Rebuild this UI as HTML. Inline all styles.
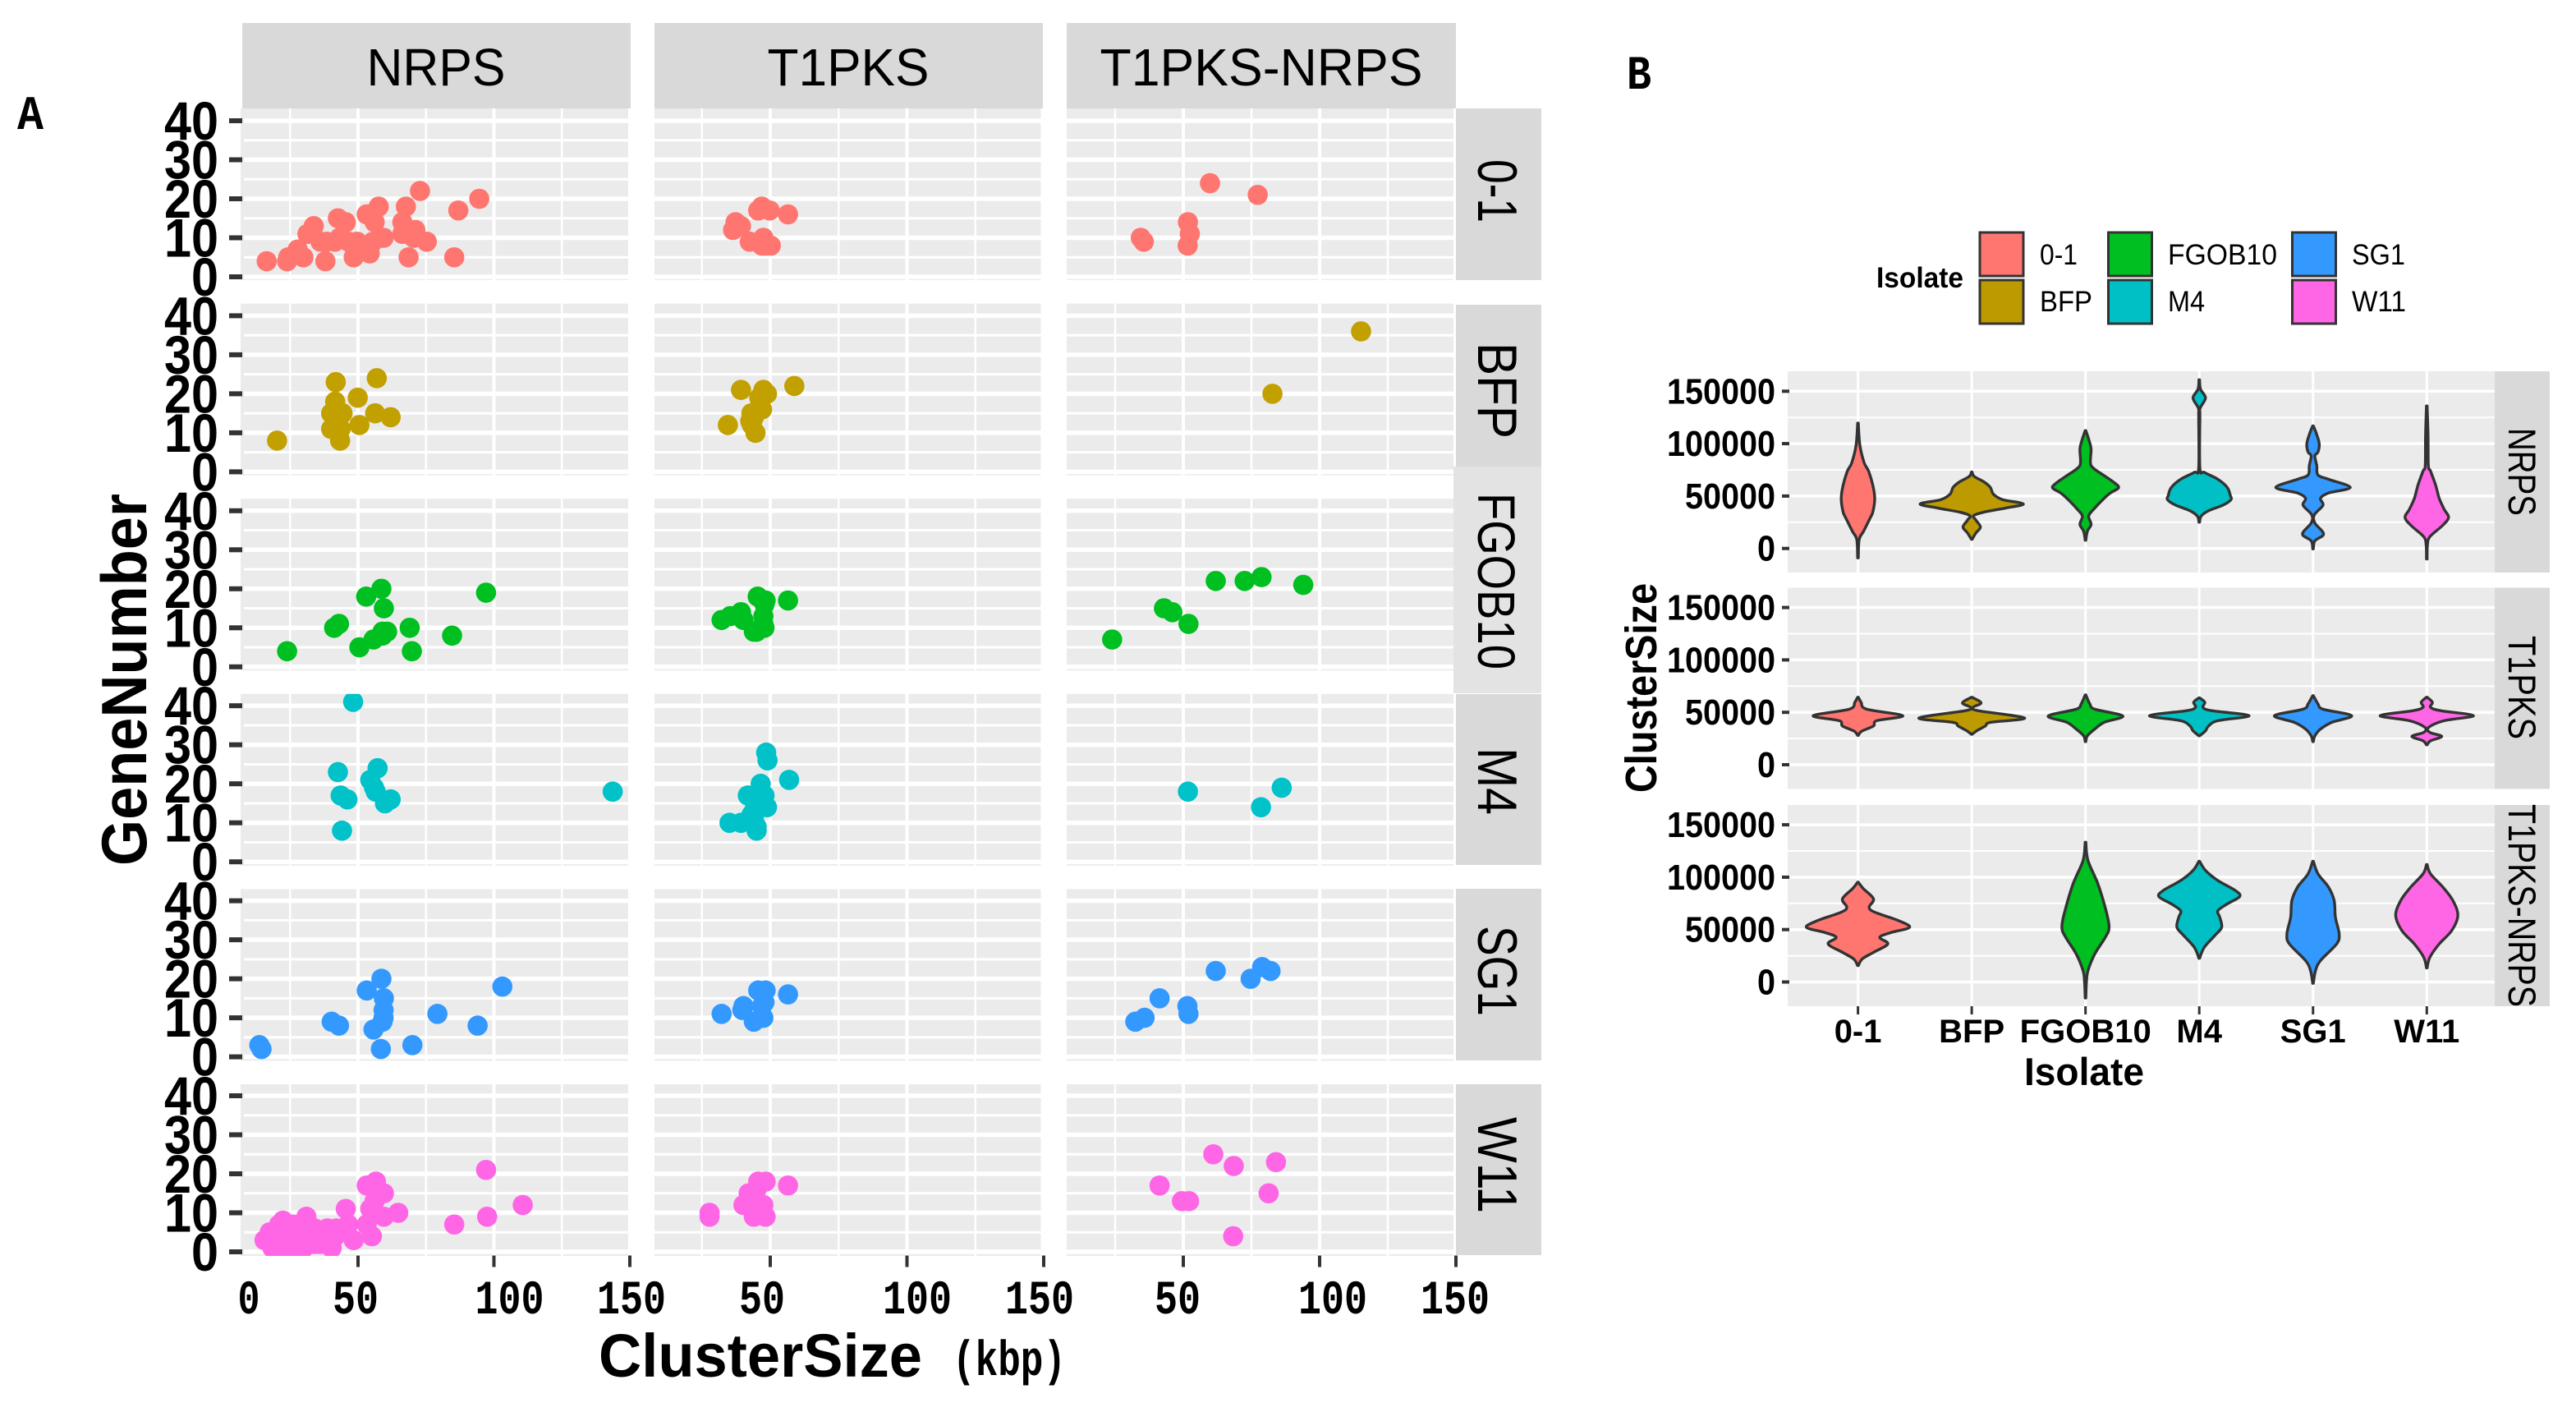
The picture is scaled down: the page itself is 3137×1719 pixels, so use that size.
<!DOCTYPE html>
<html>
<head>
<meta charset="utf-8">
<title>Cluster size and gene number by isolate</title>
<style>
html,body{margin:0;padding:0;background:#fff;width:3137px;height:1719px;overflow:hidden}
svg{display:block}
text{font-family:"Liberation Sans",sans-serif;fill:#000}
.b{font-weight:bold}
.m{font-family:"Liberation Mono",monospace;font-weight:bold}
</style>
</head>
<body>
<svg id="fig" xmlns="http://www.w3.org/2000/svg" width="3137" height="1719" viewBox="0 0 3137 1719">
<rect width="3137" height="1719" fill="#fff"/>
<g id="strips">
<rect x="295" y="28" width="473" height="104" fill="#d9d9d9"/>
<rect x="797" y="28" width="473" height="104" fill="#d9d9d9"/>
<rect x="1299" y="28" width="474" height="104" fill="#d9d9d9"/>
<rect x="1773" y="132" width="104" height="209" fill="#d9d9d9"/>
<rect x="1773" y="371" width="104" height="197" fill="#d9d9d9"/>
<rect x="1770" y="568" width="107" height="276" fill="#e3e3e3"/>
<rect x="1773" y="845" width="104" height="208" fill="#d9d9d9"/>
<rect x="1773" y="1082" width="104" height="209" fill="#d9d9d9"/>
<rect x="1773" y="1320" width="104" height="208" fill="#d9d9d9"/>
<rect x="3038" y="452" width="67" height="245" fill="#d9d9d9"/>
<rect x="3038" y="715.5" width="67" height="245" fill="#d9d9d9"/>
<rect x="3038" y="980" width="67" height="245" fill="#d9d9d9"/>
</g>
<g id="panelsA"></g>
<g id="panelsB"></g>

<g>
<text x="531" y="104" font-size="64" text-anchor="middle" textLength="169" lengthAdjust="spacingAndGlyphs">NRPS</text>
<text x="1033" y="104" font-size="64" text-anchor="middle" textLength="197" lengthAdjust="spacingAndGlyphs">T1PKS</text>
<text x="1536" y="104" font-size="64" text-anchor="middle" textLength="393" lengthAdjust="spacingAndGlyphs">T1PKS-NRPS</text>
<text transform="translate(1800,232.5) rotate(90)" font-size="68" text-anchor="middle" textLength="77" lengthAdjust="spacingAndGlyphs">0-1</text>
<text transform="translate(1800,475.5) rotate(90)" font-size="68" text-anchor="middle" textLength="117" lengthAdjust="spacingAndGlyphs">BFP</text>
<text transform="translate(1800,707.5) rotate(90)" font-size="64" text-anchor="middle" textLength="215" lengthAdjust="spacingAndGlyphs">FGOB10</text>
<text transform="translate(1800,951) rotate(90)" font-size="68" text-anchor="middle" textLength="82" lengthAdjust="spacingAndGlyphs">M4</text>
<text transform="translate(1800,1182) rotate(90)" font-size="68" text-anchor="middle" textLength="110" lengthAdjust="spacingAndGlyphs">SG1</text>
<text transform="translate(1800,1418.5) rotate(90)" font-size="68" text-anchor="middle" textLength="117" lengthAdjust="spacingAndGlyphs">W11</text>
<text transform="translate(3055,574.5) rotate(90)" font-size="47" text-anchor="middle" textLength="107" lengthAdjust="spacingAndGlyphs">NRPS</text>
<text transform="translate(3055,837) rotate(90)" font-size="47" text-anchor="middle" textLength="126" lengthAdjust="spacingAndGlyphs">T1PKS</text>
<text transform="translate(3055,1102.5) rotate(90)" font-size="47" text-anchor="middle" textLength="247" lengthAdjust="spacingAndGlyphs">T1PKS-NRPS</text>
</g>

<text class="m" x="21" y="157" font-size="58" textLength="32" lengthAdjust="spacingAndGlyphs">A</text>
<text class="m" x="1981" y="108" font-size="58" textLength="30" lengthAdjust="spacingAndGlyphs">B</text>

<text class="b" transform="translate(178,827.5) rotate(-90)" font-size="78" text-anchor="middle" textLength="453" lengthAdjust="spacingAndGlyphs">GeneNumber</text>
<text class="b" x="729" y="1676" font-size="74" textLength="394" lengthAdjust="spacingAndGlyphs">ClusterSize</text>
<text class="m" x="1160" y="1674" font-size="60" textLength="138" lengthAdjust="spacingAndGlyphs">(kbp)</text>
<text class="b" transform="translate(2017,837.5) rotate(-90)" font-size="54" text-anchor="middle" textLength="255" lengthAdjust="spacingAndGlyphs">ClusterSize</text>
<text class="b" x="2538" y="1321" font-size="47" text-anchor="middle" textLength="146" lengthAdjust="spacingAndGlyphs">Isolate</text>

<g>
<text class="b" x="2285" y="350" font-size="35" textLength="106" lengthAdjust="spacingAndGlyphs">Isolate</text>
<g><rect x="2411" y="283" width="53" height="53" fill="#ff7670" stroke="#333" stroke-width="3"/><text x="2484" y="322" font-size="35" textLength="46" lengthAdjust="spacingAndGlyphs">0-1</text></g>
<g><rect x="2411" y="341" width="53" height="53" fill="#bd9b00" stroke="#333" stroke-width="3"/><text x="2484" y="379" font-size="35" textLength="64" lengthAdjust="spacingAndGlyphs">BFP</text></g>
<g><rect x="2567.5" y="283" width="53" height="53" fill="#00bf20" stroke="#333" stroke-width="3"/><text x="2640" y="322" font-size="35" textLength="133" lengthAdjust="spacingAndGlyphs">FGOB10</text></g>
<g><rect x="2567.5" y="341" width="53" height="53" fill="#00c0c6" stroke="#333" stroke-width="3"/><text x="2640" y="379" font-size="35" textLength="45" lengthAdjust="spacingAndGlyphs">M4</text></g>
<g><rect x="2791.5" y="283" width="53" height="53" fill="#3399ff" stroke="#333" stroke-width="3"/><text x="2864" y="322" font-size="35" textLength="65" lengthAdjust="spacingAndGlyphs">SG1</text></g>
<g><rect x="2791.5" y="341" width="53" height="53" fill="#ff66e6" stroke="#333" stroke-width="3"/><text x="2864" y="379" font-size="35" textLength="66" lengthAdjust="spacingAndGlyphs">W11</text></g>
</g>
</svg>

<script>
// ---- Scatter data: cluster size (kbp) and gene number, one pair per panel ----
const clusterTypes = ['NRPS','T1PKS','T1PKS-NRPS'];
const isolates = ['0-1','BFP','FGOB10','M4','SG1','W11'];
const isolateColors = ['#ff7670','#c2a000','#00bf20','#00c2c8','#3399ff','#ff66e6'];
const violinColors = ['#ff7670','#bd9b00','#00bf20','#00c0c6','#3399ff','#ff66e6'];
const geneTicks = [0,10,20,30,40];
const geneMinor = [5,15,25,35];
const sizeTicks = [50,100,150];
const sizeMinor = [25,75,125];
const sizeTickLabels = ['50','100','150'];
const zeroLabel = '0';
const violinTicks = [0,50000,100000,150000];
const violinMinor = [25000,75000,125000];

const nrps01Size = [16.4,23.9,24.3,27.8,29.9,31.4,33.7,36.2,38,38.5,42.6,45.5,43.2,41.5,46.5,48.4,49.7,54.3,55.5,53.2,57.6,56.1,59.4,67.6,66.3,66.3,71.1,72.8,68.6,70.5,75.3,85.4,86.9,94.6];
const nrps01Genes = [4,4,5,7,5,11,13,9,4,9,15,14,10,9,9,5,9,6,9,16,18,14,10,18,14,11,12,22,5,10,9,5,17,20];
const t1pks01Size = [56.5,46.9,45.6,49.8,37.3,39.3,36.4,42.5,47.5,48.8,47,50.2];
const t1pks01Genes = [16,18,17,17,14,13,12,9,10,8,8,8];
const hybrid01Size = [59.8,77.3,51.7,52.4,51.6,34.4,35.5];
const hybrid01Genes = [24,21,14,11,8,10,9];

const nrpsBfpSize = [20.2,41.8,56.9,49.9,41.6,41.6,40.1,44.3,40.1,43.6,42,56.3,62,50.5,43.4];
const nrpsBfpGenes = [8,23,24,19,18,16,15,15,11,11,13,15,14,12,8];
const t1pksBfpSize = [58.8,39.3,47.5,48.8,46,47,43.1,42.7,43.3,34.5,44.6,44,46.4];
const t1pksBfpGenes = [22,21,21,20,19,16,15,13,12,12,10,14,18];
const hybridBfpSize = [115.2,82.7];
const hybridBfpGenes = [36,20];

const nrpsFgobSize = [23.9,41.2,43,58.6,53,59.5,69,60.7,59,59,55.7,50.5,69.8,84.6,97.1];
const nrpsFgobGenes = [4,10,11,20,18,15,10,9,9,8,7,5,4,8,19];
const t1pksFgobSize = [56.5,45.4,48.3,47.9,39.3,35.4,32.2,40.2,47.5,47.5,47.9,44,47,45];
const t1pksFgobGenes = [17,18,17,16,14,13,12,12,13,11,10,9,10,9];
const hybridFgobSize = [61.9,72.5,78.7,94,42.9,46,51.9,23.9];
const hybridFgobGenes = [22,22,23,21,15,14,11,7];

const nrpsM4Size = [48.2,42.6,57.2,54.5,55.9,56.5,43.6,46.1,62,59.9,44.1,143.7];
const nrpsM4Genes = [41,23,24,21,19,18,17,16,16,15,8,18];
const t1pksM4Size = [48.5,49,56.9,46.5,41.8,47.9,46,48.8,44,43.1,35.1,39.3,45,45,44,47];
const t1pksM4Genes = [28,26,21,20,17,17,18,14,13,12,10,10,9,8,11,15];
const hybridM4Size = [51.7,86.1,78.5];
const hybridM4Genes = [18,19,14];

const nrpsSg1Size = [13.7,14.5,40.3,43,58.6,53.2,59.5,59.4,59.4,59,55.7,58.4,70,79.2,94,103.1];
const nrpsSg1Genes = [3,2,9,8,20,17,15,12,10,9,7,2,3,11,8,18];
const t1pksSg1Size = [56.5,45.6,48.3,47.9,40.2,39.8,32.2,44,47.5,47];
const t1pksSg1Genes = [16,17,17,14,13,12,11,9,10,13];
const hybridSg1Size = [61.9,78.9,82,74.7,41.3,51.5,51.9,35.8,32.4];
const hybridSg1Genes = [22,23,22,20,15,13,11,10,9];

const nrpsW11Size = [15.6,17.5,20.4,18.5,22.4,24.3,26.2,31,32,28.1,24.3,34,34,38.7,40.3,41.6,45.5,46.4,48.4,43.5,55.1,53.2,54.5,53.2,56.6,59.5,56.1,59.5,64.8,85.4,97.1,97.5,110.6,20.4,25.3,29.1,18.5,30,35.8,22.4,27.2,32,20,22,24,26,28,30,25,27,33,23,21,36,42];
const nrpsW11Genes = [3,5,2,4,8,5,7,9,5,3,1,6,2,6,1,4,11,7,3,5,4,7,11,17,18,15,13,9,10,7,21,9,12,5,3,6,1,1,4,4,1,3,3,5,2,4,6,3,7,1,4,1,7,2,6];
const t1pksW11Size = [56.5,45.6,48.3,42.1,40.2,47.5,27.8,27.8,44,48.3,44,45];
const t1pksW11Genes = [17,18,18,15,12,12,10,9,9,9,13,16];
const hybridW11Size = [61,68.5,84,41.3,81.3,49.5,52.1,68.3];
const hybridW11Genes = [25,22,23,17,15,13,13,4];

const scatterSizes = [
  [nrps01Size,t1pks01Size,hybrid01Size],
  [nrpsBfpSize,t1pksBfpSize,hybridBfpSize],
  [nrpsFgobSize,t1pksFgobSize,hybridFgobSize],
  [nrpsM4Size,t1pksM4Size,hybridM4Size],
  [nrpsSg1Size,t1pksSg1Size,hybridSg1Size],
  [nrpsW11Size,t1pksW11Size,hybridW11Size]
];
const scatterGenes = [
  [nrps01Genes,t1pks01Genes,hybrid01Genes],
  [nrpsBfpGenes,t1pksBfpGenes,hybridBfpGenes],
  [nrpsFgobGenes,t1pksFgobGenes,hybridFgobGenes],
  [nrpsM4Genes,t1pksM4Genes,hybridM4Genes],
  [nrpsSg1Genes,t1pksSg1Genes,hybridSg1Genes],
  [nrpsW11Genes,t1pksW11Genes,hybridW11Genes]
];

// ---- Violin data: cluster size (kbp) and relative density, one pair per violin ----
const vNrps01Size = [119.6,98.7,81.7,73.9,60,47.8,35,29.5,16.4,8.6,-9];
const vNrps01Dens = [0.5,3,10,17,24,27,24,20,9,2,0.5];
const vNrpsBfpSize = [73,68.7,63.4,58.2,51.7,46.5,42.5,38.6,34.7,31.3,26.9,20.4,15,8.6];
const vNrpsBfpDens = [0.5,4,20,30,35,50,83,55,20,3,7,14,7,0.5];
const vNrpsFgobSize = [112.5,102.6,94.8,81.7,76.5,68.7,62,57.7,53,47.8,37.3,30.8,23,16.4,7.8];
const vNrpsFgobDens = [0.5,6,9,8,13,32,48,53,40,30,13,5,9,3,0.5];
const vNrpsM4Size = [161,152,143.6,134,126,76.5,72.6,66,58.2,50.4,46.5,41.3,36,30.8,25];
const vNrpsM4Dens = [0.5,2,10,1.5,1,1,8,30,45,50,51,38,15,3,0.5];
const vNrpsSg1Size = [117,110.4,100,92,88.3,79,70,66,58.2,53,47.8,41.3,32,24.3,13.8,7.3,-0.5];
const vNrpsSg1Dens = [0.5,5,10,8,3,6,8,25,60,25,12,16,2,3,17,3,0.5];
const vNrpsW11Size = [136,107.8,79,73.9,60.8,47.8,37.3,29.5,21.7,11.2,3.4,-10];
const vNrpsW11Dens = [0.5,2,2.5,6,14,20,28,35,25,5,1,0.5];

const vT1pks01Size = [64.4,59.6,53,46.8,42,37,32,28];
const vT1pks01Dens = [0.5,5,14,72,30,25,6,0.5];
const vT1pksBfpSize = [64.4,59,54.8,51.6,44.6,40.4,37,32.4,29];
const vT1pksBfpDens = [0.5,15,2,10,85,30,22,8,0.5];
const vT1pksFgobSize = [66.7,58,53,46.5,40.4,34,27.6,22];
const vT1pksFgobDens = [0.5,7,15,60,30,15,3,0.5];
const vT1pksM4Size = [63.8,59.6,54.8,51.6,46.8,42,37,32.4,27.6];
const vT1pksM4Dens = [0.5,9,6,20,80,30,15,10,0.5];
const vT1pksSg1Size = [66,58,53,46.8,40.4,34,27.6,22];
const vT1pksSg1Dens = [0.5,8,16,62,30,12,3,0.5];
const vT1pksW11Size = [64.4,59.6,54.8,51.6,46.8,42,35.6,30.8,27,22.8,19];
const vT1pksW11Dens = [0.5,9,6,22,75,28,3,5,24,6,0.5];

const vHybrid01Size = [95.2,88.9,79.3,71.3,66.6,58.6,52.2,47.5,42.7,36.3,28.3,22,15.6];
const vHybrid01Dens = [0.5,9,25,18,27,65,83,55,35,48,25,7,0.5];
const vHybridFgobSize = [133.4,115.9,93.6,68,52.2,42.7,26.8,10.8,-0.3,-15.3];
const vHybridFgobDens = [0.5,4,20,33,38,32,15,4,1.5,0.5];
const vHybridM4Size = [115.3,106.4,96.8,87.3,81.5,74.5,68,61.8,52.2,44.3,33.1,22.6];
const vHybridM4Dens = [0.5,10,30,58,65,45,30,33,36,25,8,0.5];
const vHybridSg1Size = [115.3,103.2,90.4,77.7,61.8,45.9,36.3,20.4,10.8,-1.3];
const vHybridSg1Dens = [0.5,8,25,34,36,42,38,12,4,0.5];
const vHybridW11Size = [112.1,103.2,90.4,77.7,63.4,49,36.3,23.6,13.4];
const vHybridW11Dens = [0.5,6,26,42,50,40,20,5,0.5];

const violinSizes = [
  [vNrps01Size,vNrpsBfpSize,vNrpsFgobSize,vNrpsM4Size,vNrpsSg1Size,vNrpsW11Size],
  [vT1pks01Size,vT1pksBfpSize,vT1pksFgobSize,vT1pksM4Size,vT1pksSg1Size,vT1pksW11Size],
  [vHybrid01Size,null,vHybridFgobSize,vHybridM4Size,vHybridSg1Size,vHybridW11Size]
];
const violinDens = [
  [vNrps01Dens,vNrpsBfpDens,vNrpsFgobDens,vNrpsM4Dens,vNrpsSg1Dens,vNrpsW11Dens],
  [vT1pks01Dens,vT1pksBfpDens,vT1pksFgobDens,vT1pksM4Dens,vT1pksSg1Dens,vT1pksW11Dens],
  [vHybrid01Dens,null,vHybridFgobDens,vHybridM4Dens,vHybridSg1Dens,vHybridW11Dens]
];

// ---- helpers ----
const NS = 'http://www.w3.org/2000/svg';
function add(parent, tag, attrs, txt){
  const el = document.createElementNS(NS, tag);
  for (const k in attrs) el.setAttribute(k, attrs[k]);
  if (txt !== undefined) el.textContent = txt;
  parent.appendChild(el);
  return el;
}
function slug(s){ return String(s).toLowerCase(); }

// ---- Panel A axes ----
function sizeX(col, v){ return [436,938,1441][col] + (v - 50) * [3.31,3.33,3.32][col]; }
function geneY(row, g){ return 337 + 237.4 * row - g * 4.75; }
const colLeft = c => [293,797,1299][c];
const colRight = c => [765,1267.5,1770][c];
const rowTop = r => 132 + 237.6 * r;
const PANEL_H = 209;
// Hand-placed tick label offsets in the reference, per column then per tick
const labelNudge = [[-3,19,2],[-10,12.5,-5],[-7,16,-1]];

const panelsA = document.getElementById('panelsA');
const defs = add(document.getElementById('fig'), 'defs', {});
isolates.forEach((iso, r) => {
  clusterTypes.forEach((ct, c) => {
    const L = colLeft(c), R = colRight(c), T = rowTop(r);
    const g = add(panelsA, 'g', {});
    
    
    const bg = add(g, 'rect', {x:L, y:T, width:R-L, height:PANEL_H, fill:'#ebebeb'});
    
    
    const gx0 = c === 0 ? 297 : L;
    geneMinor.forEach(t => {
      const ln = add(g, 'line', {x1:gx0, x2:R, y1:geneY(r,t), y2:geneY(r,t), stroke:'#fff', 'stroke-width':3});
      
      
    });
    geneTicks.forEach(t => {
      const ln = add(g, 'line', {x1:gx0, x2:R, y1:geneY(r,t), y2:geneY(r,t), stroke:'#fff', 'stroke-width':5.5});
      
      
    });
    sizeMinor.forEach(t => {
      const ln = add(g, 'line', {x1:sizeX(c,t), x2:sizeX(c,t), y1:T, y2:T+PANEL_H, stroke:'#fff', 'stroke-width':2.5});
      
      
    });
    sizeTicks.forEach(t => {
      if (sizeX(c,t) >= R) return;
      const ln = add(g, 'line', {x1:sizeX(c,t), x2:sizeX(c,t), y1:T, y2:T+PANEL_H, stroke:'#fff', 'stroke-width':4});
      
      
    });
    // clip region for points
    const cpId = 'cp' + r + '_' + c;
    const cp = add(defs, 'clipPath', {id:cpId});
    add(cp, 'rect', {x:L, y:T, width:R-L+4, height:PANEL_H});
    const pts = add(g, 'g', {'clip-path':'url(#' + cpId + ')'});
    
    
    const xs = scatterSizes[r][c], ys = scatterGenes[r][c];
    xs.forEach((v, i) => {
      const dot = add(pts, 'circle', {cx:sizeX(c,v), cy:geneY(r,ys[i]), r:12.3, fill:isolateColors[r]});
      
      
    });
  });
  // y ticks & labels
  geneTicks.forEach(t => {
    const tk = add(panelsA, 'rect', {x:279, y:geneY(r,t)-3, width:16, height:6, fill:'#333'});
    
    
    const lb = add(panelsA, 'text', {x:266, y:geneY(r,t)+23, 'font-size':66, 'text-anchor':'end', 'class':'b', textLength: t === 0 ? 33 : 66, lengthAdjust:'spacingAndGlyphs'}, String(t));
    
    
  });
});
// x ticks & labels
clusterTypes.forEach((ct, c) => {
  sizeTicks.forEach((t, i) => {
    const tk = add(panelsA, 'rect', {x:sizeX(c,t)-2, y:1528.5, width:4, height:14, fill:'#333'});
    
    
    const s = sizeTickLabels[i];
    const lb = add(panelsA, 'text', {x:sizeX(c,t)+labelNudge[c][i], y:1599, 'font-size':58, 'text-anchor':'middle', 'class':'m', textLength:s.length*28, lengthAdjust:'spacingAndGlyphs'}, s);
    
    
  });
});
const zl = add(panelsA, 'text', {x:303, y:1599, 'font-size':58, 'text-anchor':'middle', 'class':'m', textLength:27, lengthAdjust:'spacingAndGlyphs'}, zeroLabel);



// ---- Panel B axes ----
const bLeft = 2177, bRight = 3038, bHeight = 245;
const bTop = i => [452,715.5,980][i];
function violinY(row, kbp){ return [667.7,931,1195.5][row] - kbp * 1.276; }
function catX(i){ return 2262.6 + i * 138.54; }
const DENS_PX = 0.757;

function smoothPath(pts){
  let d = '';
  for (let i = 0; i < pts.length - 1; i++){
    const p0 = pts[Math.max(i-1,0)], p1 = pts[i], p2 = pts[i+1], p3 = pts[Math.min(i+2,pts.length-1)];
    const c1x = p1[0] + (p2[0]-p0[0])/6, c1y = p1[1] + (p2[1]-p0[1])/6;
    const c2x = p2[0] - (p3[0]-p1[0])/6, c2y = p2[1] - (p3[1]-p1[1])/6;
    d += ' C' + c1x.toFixed(1) + ' ' + c1y.toFixed(1) + ' ' + c2x.toFixed(1) + ' ' + c2y.toFixed(1) + ' ' + p2[0].toFixed(1) + ' ' + p2[1].toFixed(1);
  }
  return d;
}

const panelsB = document.getElementById('panelsB');
clusterTypes.forEach((ct, r) => {
  const T = bTop(r);
  const g = add(panelsB, 'g', {});
  
  
  const bg = add(g, 'rect', {x:bLeft, y:T, width:bRight-bLeft, height:bHeight, fill:'#ebebeb'});
  
  
  violinMinor.forEach(t => {
    const ln = add(g, 'line', {x1:bLeft, x2:bRight, y1:violinY(r,t/1000), y2:violinY(r,t/1000), stroke:'#fff', 'stroke-width':2});
    
    
  });
  violinTicks.forEach(t => {
    const y = violinY(r,t/1000);
    const ln = add(g, 'line', {x1:bLeft, x2:bRight, y1:y, y2:y, stroke:'#fff', 'stroke-width':3.5});
    
    
    const tk = add(g, 'rect', {x:2170, y:y-2, width:9, height:4, fill:'#333'});
    
    
    const s = String(t);
    const lb = add(g, 'text', {x:2162, y:y+15, 'font-size':44, 'text-anchor':'end', 'class':'b', textLength:s.length*22, lengthAdjust:'spacingAndGlyphs'}, s);
    
    
  });
  isolates.forEach((iso, i) => {
    const ln = add(g, 'line', {x1:catX(i), x2:catX(i), y1:T, y2:T+bHeight, stroke:'#fff', 'stroke-width':3});
    
    
  });
  isolates.forEach((iso, i) => {
    const sz = violinSizes[r][i], dn = violinDens[r][i];
    if (!sz) return;
    const cx = catX(i);
    const right = sz.map((v, k) => [cx + dn[k]*DENS_PX, violinY(r,v)]);
    const left = sz.map((v, k) => [cx - dn[k]*DENS_PX, violinY(r,v)]).reverse();
    const d = 'M' + right[0][0].toFixed(1) + ' ' + right[0][1].toFixed(1) + smoothPath(right) +
              ' L' + left[0][0].toFixed(1) + ' ' + left[0][1].toFixed(1) + smoothPath(left) + ' Z';
    const v = add(g, 'path', {d:d, fill:violinColors[i], stroke:'#333', 'stroke-width':3.4, 'stroke-linejoin':'round'});
    
    
  });
});
isolates.forEach((iso, i) => {
  const tk = add(panelsB, 'rect', {x:catX(i)-1.5, y:1225, width:3, height:10, fill:'#333'});
  
  
  const lb = add(panelsB, 'text', {x:catX(i), y:1269, 'font-size':40, 'text-anchor':'middle', 'class':'b'}, iso);
  
  
});
</script>
</body>
</html>
